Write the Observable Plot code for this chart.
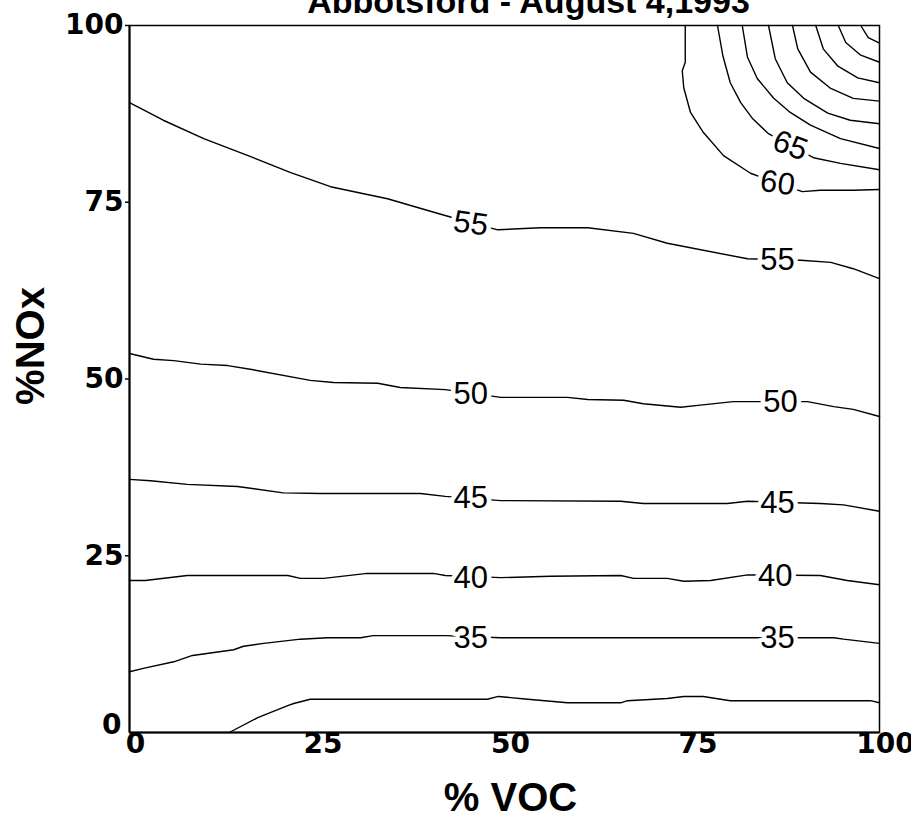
<!DOCTYPE html>
<html><head><meta charset="utf-8">
<script src="https://cdn.jsdelivr.net/npm/d3@7"></script>
<script src="https://cdn.jsdelivr.net/npm/@observablehq/plot@0.6"></script>
<style>
html,body{margin:0;padding:0;background:#fff;overflow:hidden}
svg{overflow:hidden;display:block}
</style>
</head><body><div id="chart"></div>
<script>
const title = "Abbotsford - August 4,1993";
const xLabel = "% VOC";
const yLabel = "%NOx";
const xTicks = [0, 25, 50, 75, 100];
const yTicks = [25, 50, 75, 100];
const yZeroTick = [0];

const levels = [30, 35, 40, 45, 50, 55, 60, 65, 70, 75, 80, 85, 90, 95];
const c30 = [[13.3,0],[17.1,2.1],[21.1,3.8],[21.9,4.1],[24.1,4.7],[47.7,4.7],[49.2,5.1],[53.1,4.7],[58.4,4.2],[65.5,4.2],[66.4,4.5],[71.7,4.8],[73.9,5.1],[76.5,5.1],[80.1,4.5],[98.8,4.5],[100,4.2]];
const c35 = [[0,8.6],[2.0,9.1],[5.9,10.0],[8.4,10.9],[13.9,11.7],[15.2,12.2],[17.9,12.6],[22.8,13.2],[26.4,13.4],[30.8,13.4],[32.5,13.7],[42.1,13.7],[49.5,13.4],[82.8,13.4],[93.9,13.4],[95.2,13.2],[100,12.6]];
const c40 = [[0,21.5],[2.1,21.5],[7.7,22.2],[21.1,22.2],[22.8,21.8],[25.9,21.8],[31.7,22.5],[40.5,22.5],[42.1,22.2],[49.5,21.9],[56.1,22.1],[65.5,22.2],[67.2,21.8],[71.7,21.8],[73.9,21.4],[77.5,21.5],[82.4,22.3],[92.1,22.2],[95.7,21.5],[100,20.9]];
const c45 = [[0,35.8],[2.8,35.6],[7.7,35.1],[14.4,34.8],[20.5,33.9],[25.5,33.8],[38.8,33.8],[42.1,33.4],[49.5,32.8],[65.5,32.7],[68.5,32.4],[79.7,32.4],[82.4,32.7],[92.1,32.4],[95.2,32.2],[100,31.3]];
const c50 = [[0,53.6],[3.2,52.8],[5.9,52.6],[9.5,52.1],[13.1,51.9],[16.5,51.3],[24.1,49.8],[27.2,49.5],[33.1,49.4],[36.1,48.8],[42.1,48.5],[49.5,47.4],[58.4,47.4],[61.1,47.1],[65.9,47.0],[68.5,46.5],[73.5,46.0],[76.1,46.3],[80.5,46.8],[90.4,46.8],[93.9,46.1],[96.5,45.7],[100,44.7]];
const c55 = [[0,89.1],[4.5,86.6],[9.9,84.0],[16.5,81.3],[21.5,79.2],[26.8,77.2],[34.4,75.5],[41.5,73.3],[45.5,72.1],[49.1,71.1],[54.8,71.4],[61.1,71.4],[67.2,70.6],[71.7,69.2],[82.4,67.0],[89.5,66.8],[93.5,66.5],[96.5,65.6],[100,64.2]];
const c60 = [[74.1,100],[74.1,94.8],[73.7,93.6],[73.9,91.2],[74.8,87.7],[76.5,84.9],[79.2,81.6],[82.8,79.1],[86.4,77.7],[89.7,76.5],[92.1,76.7],[96.5,76.7],[100,76.8]];
const c65 = [[78.4,100],[79.1,95.8],[80.1,91.9],[81.5,89.1],[83.1,86.8],[85.2,84.7],[88.1,83.0],[91.2,81.3],[94.8,80.5],[100,79.6]];
const c70 = [[81.7,100],[82.4,95.5],[83.7,92.5],[85.9,89.7],[88.1,87.7],[90.8,85.9],[94.8,84.0],[100,82.6]];
const c75 = [[85.2,100],[86.1,95.3],[87.7,91.9],[89.9,89.7],[93.1,87.6],[96.1,86.6],[100,86.1]];
const c80 = [[88.4,100],[89.1,96.7],[90.8,93.4],[93.5,91.1],[96.5,89.7],[100,89.3]];
const c85 = [[91.5,100],[92.5,96.7],[94.4,94.3],[97.1,92.6],[100,91.9]];
const c90 = [[94.5,100],[95.5,97.6],[97.5,95.8],[100,94.8]];
const c95 = [[97.5,100],[98.5,98.3],[100,97.5]];
const paths = [c30, c35, c40, c45, c50, c55, c60, c65, c70, c75, c80, c85, c90, c95];

const labelText  = ["55", "55", "50", "50", "45", "45", "40", "40", "35", "35", "60", "65"];
const labelX     = [45.5, 86.4, 45.5, 86.8, 45.5, 86.4, 45.5, 86.1, 45.5, 86.4, 86.4, 88.1];
const labelY     = [72.0, 66.8, 47.9, 46.7, 33.1, 32.5, 21.9, 22.1, 13.4, 13.4, 77.7, 83.0];
const labelAngle = [8, 0, 0, 0, 0, 0, 0, 0, 0, 0, 8, 20];

const lineData = levels.flatMap((lv, i) => paths[i].map(([x, y]) => ({level: lv, x, y})));
const labelData = labelText.map((t, i) => ({text: t, x: labelX[i], y: labelY[i], rotate: labelAngle[i]}));

const font = "'Liberation Sans', Arial, Helvetica, sans-serif";
const tickFont = "'DejaVu Sans', sans-serif";

const chart = Plot.plot({
  width: 911,
  height: 822,
  marginLeft: 129,
  marginRight: 32,
  marginTop: 25,
  marginBottom: 90,
  style: {fontFamily: font, color: "black", background: "white"},
  x: {domain: [0, 100], label: null},
  y: {domain: [0, 100], label: null},
  marks: [
    Plot.line(lineData, {x: "x", y: "y", z: "level", stroke: "black", strokeWidth: 1.4, curve: "linear"}),
    Plot.text(labelData, {x: "x", y: "y", text: "text", rotate: "rotate", fontSize: 31, fill: "black",
      stroke: "white", strokeWidth: 9, paintOrder: "stroke"}),
    Plot.frame({stroke: "black", strokeWidth: 1.5}),
    Plot.ruleX([0], {stroke: "black", strokeWidth: 2}),
    Plot.ruleY([0], {stroke: "black", strokeWidth: 2}),
    Plot.axisX(xTicks, {tickSize: 0, tickPadding: 1, fontSize: 28, fontWeight: "bold", fontFamily: tickFont, dx: 6, label: null}),
    Plot.axisY(yTicks, {tickSize: 4, tickPadding: 2, fontSize: 28, fontWeight: "bold", fontFamily: tickFont, label: null, strokeWidth: 1.5}),
    Plot.text(yZeroTick, {frameAnchor: "left", y: d => d, text: d => String(d), textAnchor: "end",
      dx: -8, dy: -7, fontSize: 28, fontWeight: "bold", fontFamily: tickFont}),
    Plot.text([title], {frameAnchor: "top", text: d => d, lineAnchor: "bottom", dx: 24, dy: -13,
      fontSize: 34, fontWeight: "bold"}),
    Plot.text([xLabel], {frameAnchor: "bottom", text: d => d, dx: 6, dy: 78, fontSize: 40, fontWeight: "bold"}),
    Plot.text([yLabel], {frameAnchor: "left", text: d => d, textAnchor: "middle", rotate: -90, dx: -98, dy: -33, fontSize: 40, fontWeight: "bold"})
  ]
});
document.getElementById("chart").appendChild(chart);
</script>
</body></html>
